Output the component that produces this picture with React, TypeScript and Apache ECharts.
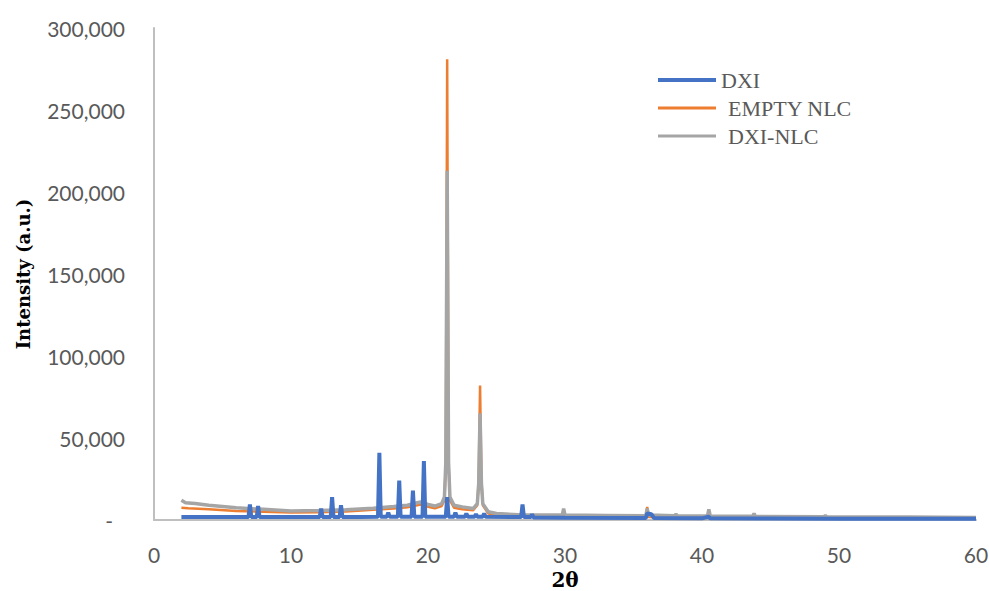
import React, { useEffect, useRef } from "react";
import * as echarts from "echarts";

const seriesNames = ["DXI", "EMPTY NLC", "DXI-NLC"];
const xTicks = { min: 0, max: 60, interval: 10 };
const yTicks = { min: 0, max: 300000, interval: 50000 };

const dxi: [number, number][] = [
  [2, 1800], [4, 1800], [6, 1800], [6.9, 1900], [7.0, 9500], [7.1, 1900],
  [7.5, 1900], [7.6, 8500], [7.7, 1900], [10, 1800], [12.1, 1900], [12.2, 7000],
  [12.3, 1900], [12.9, 1900], [13.0, 14000], [13.1, 1900], [13.55, 1900], [13.65, 9000],
  [13.75, 1900], [15, 1900], [16.35, 2000], [16.45, 41000], [16.55, 2000], [17.0, 2000],
  [17.1, 4500], [17.2, 2000], [17.8, 2000], [17.9, 24000], [18.0, 2000], [18.8, 2000],
  [18.9, 18000], [19.0, 2000], [19.6, 2000], [19.7, 36000], [19.8, 2000], [21.3, 2000],
  [21.4, 14000], [21.5, 2000], [21.9, 2000], [22.0, 4500], [22.1, 2000], [22.7, 2000],
  [22.8, 4000], [22.9, 2000], [23.4, 2000], [23.5, 3500], [23.6, 2000], [24.0, 2000],
  [24.1, 4000], [24.2, 2000], [26.8, 1800], [26.9, 9500], [27.0, 1800], [27.5, 1800],
  [27.6, 3500], [27.7, 1500], [30, 1300], [35.9, 1200], [36.0, 4000], [36.3, 3500],
  [36.5, 1200], [40, 1000], [40.5, 2000], [40.6, 1000], [45, 900], [50, 800],
  [55, 800], [60, 700],
];

const emptyNlc: [number, number][] = [
  [2, 7500], [2.5, 7200], [4, 6500], [6, 5500], [8, 5000], [10, 4500],
  [12, 4800], [14, 5200], [16, 6300], [17.5, 7000], [18.5, 7800], [19.2, 9000],
  [19.5, 9500], [20.0, 8000], [20.5, 7200], [21.0, 8500], [21.2, 12000], [21.3, 35000],
  [21.4, 281000], [21.5, 35000], [21.6, 12000], [21.9, 7500], [22.5, 6500], [23.3, 6000],
  [23.6, 9000], [23.7, 25000], [23.8, 82000], [23.9, 25000], [24.0, 9000], [24.4, 4000],
  [25, 3200], [27, 2200], [29.8, 1800], [29.9, 3500], [30.0, 1800], [35.9, 1500],
  [36.0, 8000], [36.1, 1800], [40.4, 1400], [40.5, 4000], [40.6, 1400], [43.7, 1300],
  [43.8, 2500], [43.9, 1300], [50, 1100], [60, 900],
];

const dxiNlc: [number, number][] = [
  [2, 12000], [2.3, 10500], [3, 10000], [4, 9000], [6, 7500], [8, 6500],
  [10, 5500], [12, 5800], [14, 6200], [16, 7200], [17.5, 8200], [18.5, 9000],
  [19.2, 10500], [19.5, 11000], [20.0, 9500], [20.5, 8500], [21.0, 10000], [21.2, 14000],
  [21.3, 35000], [21.4, 213000], [21.5, 35000], [21.6, 14000], [21.9, 9000], [22.5, 8000],
  [23.3, 7000], [23.6, 10000], [23.7, 22000], [23.8, 65000], [23.9, 22000], [24.0, 10000],
  [24.4, 5000], [25, 4000], [27, 3000], [29.8, 3000], [29.9, 7000], [30.0, 3000],
  [33, 2800], [35.9, 2600], [36.0, 7000], [36.1, 3000], [38.0, 2600], [38.1, 3500],
  [38.2, 2600], [40.4, 2500], [40.5, 6500], [40.6, 2500], [43.7, 2300], [43.8, 4000],
  [43.9, 2200], [48.9, 2000], [49.0, 2800], [49.1, 2000], [55, 1800], [60, 1600],
];

const colors = { dxi: "#4472C4", empty: "#ED7D31", dxiNlc: "#A5A5A5" };
const tickFont = "Lato";
const serif = "DejaVu Serif";
const legendFont = "Liberation Serif";

export default function App() {
  const ref = useRef<HTMLDivElement>(null);
  useEffect(() => {
    if (!ref.current) return;
    const chart = echarts.init(ref.current, null, { renderer: "svg" });
    chart.setOption({
      animation: false,
      backgroundColor: "#ffffff",
      grid: {
        left: 154,
        right: 13,
        top: 28,
        bottom: 71,
        containLabel: false,
        outerBoundsMode: "none",
      },
      legend: {
        orient: "vertical",
        left: 653,
        top: 64,
        itemWidth: 58,
        itemHeight: 14,
        itemGap: 6,
        symbolKeepAspect: true,
        data: [
          { name: seriesNames[0], icon: "path://M0 0H58V4H0Z" },
          { name: seriesNames[1], icon: "path://M0 0H58V3H0Z" },
          { name: seriesNames[2], icon: "path://M0 0H58V3H0Z" },
        ],
        formatter: (name: string) => (name === "DXI" ? name : "{p|" + name + "}"),
        textStyle: {
          fontFamily: legendFont,
          fontSize: 22,
          color: "#595959",
          lineHeight: 22,
          rich: {
            p: {
              fontFamily: legendFont,
              fontSize: 22,
              color: "#595959",
              lineHeight: 22,
              padding: [0, 0, 0, 7],
            },
          },
        },
      },
      xAxis: {
        type: "value",
        min: xTicks.min,
        max: xTicks.max,
        interval: xTicks.interval,
        name: "2θ",
        nameLocation: "middle",
        nameGap: 50,
        nameTextStyle: { fontFamily: serif, fontWeight: "bold", fontSize: 20, color: "#000000" },
        axisLine: { show: true, lineStyle: { color: "#BFBFBF", width: 2 } },
        axisTick: { show: false },
        splitLine: { show: false },
        axisLabel: { margin: 24, fontFamily: tickFont, fontSize: 21, color: "#595959" },
      },
      yAxis: {
        type: "value",
        min: yTicks.min,
        max: yTicks.max,
        interval: yTicks.interval,
        name: "Intensity (a.u.)",
        nameLocation: "middle",
        nameGap: 122,
        nameTextStyle: { fontFamily: serif, fontWeight: "bold", fontSize: 18, color: "#000000" },
        axisLine: { show: true, lineStyle: { color: "#BFBFBF", width: 2 } },
        axisTick: { show: false },
        splitLine: { show: false },
        axisLabel: {
          margin: 29,
          fontFamily: tickFont,
          fontSize: 21,
          color: "#595959",
          formatter: (v: number) => (v === 0 ? "{d|-}" : v.toLocaleString("en-US")),
          rich: {
            d: { fontFamily: tickFont, fontSize: 21, color: "#595959", padding: [0, 12, 0, 0] },
          },
        },
      },
      series: [
        {
          name: "EMPTY NLC",
          type: "line",
          data: emptyNlc,
          symbol: "none",
          lineStyle: { color: colors.empty, width: 2.5 },
          itemStyle: { color: colors.empty },
        },
        {
          name: "DXI-NLC",
          type: "line",
          data: dxiNlc,
          symbol: "none",
          lineStyle: { color: colors.dxiNlc, width: 3.5 },
          itemStyle: { color: colors.dxiNlc },
        },
        {
          name: "DXI",
          type: "line",
          data: dxi,
          symbol: "none",
          lineStyle: { color: colors.dxi, width: 4 },
          itemStyle: { color: colors.dxi },
        },
      ],
    });
    return () => chart.dispose();
  }, []);
  return (
    <div
      ref={ref}
      style={{ position: "fixed", left: 0, top: 0, width: 989, height: 591, background: "#fff" }}
    />
  );
}
